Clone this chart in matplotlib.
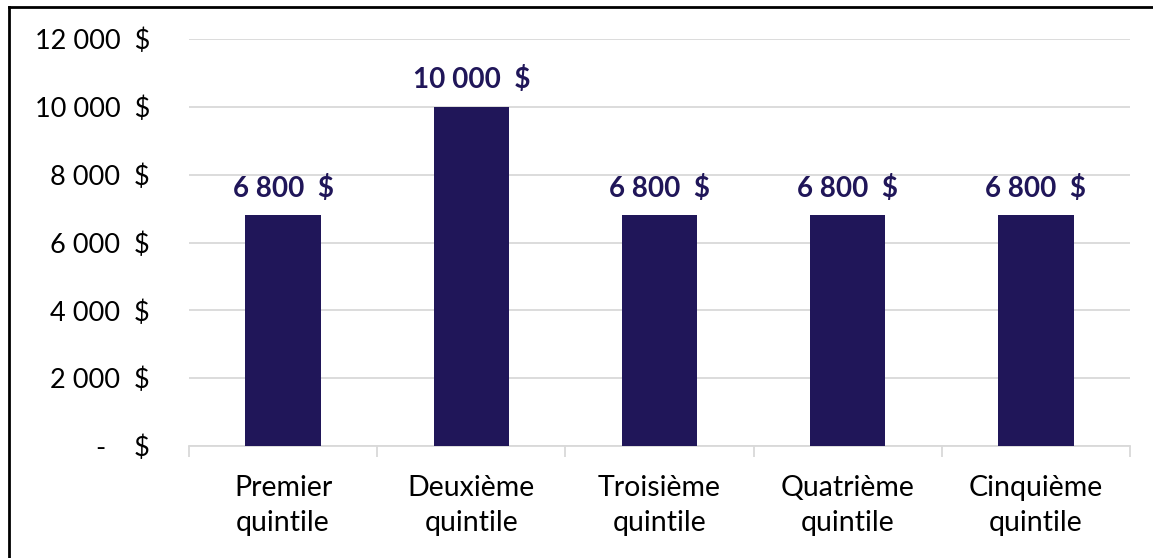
import matplotlib.pyplot as plt
from matplotlib.lines import Line2D

categories = ["Premier\nquintile", "Deuxième\nquintile", "Troisième\nquintile",
              "Quatrième\nquintile", "Cinquième\nquintile"]
values = [6800, 10000, 6800, 6800, 6800]
yticks = [0, 2000, 4000, 6000, 8000, 10000, 12000]


def fmt_money(v):
    if v == 0:
        return "-    $"
    return "{:,}".format(int(v)).replace(",", " ") + "  $"


plt.rcParams['font.family'] = ['Lato', 'DejaVu Sans']

W, H = 1153, 558
fig = plt.figure(figsize=(W / 100, H / 100), dpi=100)
ax = fig.add_axes([189 / W, 1 - 446 / H, (1130 - 189) / W, (446 - 39) / H])

bar_color = "#201659"
x = range(len(categories))
ax.bar(x, values, width=0.4, color=bar_color, zorder=3)

for i, v in zip(x, values):
    ax.text(i, v + 400, fmt_money(v), ha="center", va="bottom",
            fontsize=20, fontweight="bold", color=bar_color)

ax.set_xlim(-0.5, len(categories) - 0.5)
ax.set_ylim(0, 12000)
ax.set_yticks(yticks)
ax.set_yticklabels([fmt_money(t) for t in yticks], fontsize=19.5)
ax.grid(axis="y", color="#d9d9d9", linewidth=1.3, zorder=0)
ax.tick_params(axis="y", length=0, pad=28)

# category labels between boundary tick marks
ax.set_xticks([i - 0.5 for i in range(len(categories) + 1)])
ax.set_xticklabels([])
ax.set_xticks(list(x), minor=True)
ax.set_xticklabels(categories, minor=True, fontsize=20.5, linespacing=1.42)
ax.tick_params(axis="x", which="major", length=8, color="#d9d9d9", width=1.3)
ax.tick_params(axis="x", which="minor", length=0, pad=21)

for s in ["top", "right", "left"]:
    ax.spines[s].set_visible(False)
ax.spines["bottom"].set_color("#d9d9d9")
ax.spines["bottom"].set_linewidth(1.3)

# outer frame (only top and left edges are visible)
fig.add_artist(Line2D([9 / W, 9 / W], [0, 1 - 6.5 / H], color="black",
                      linewidth=2, transform=fig.transFigure))
fig.add_artist(Line2D([9 / W, 1], [1 - 6.5 / H, 1 - 6.5 / H], color="black",
                      linewidth=2, transform=fig.transFigure))

fig.savefig("out.png", dpi=100)
